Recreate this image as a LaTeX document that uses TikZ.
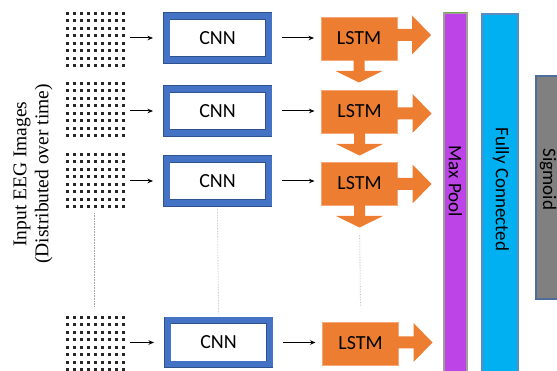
\documentclass[tikz,border=0pt]{standalone}
\usepackage{fontspec}
\setmainfont{Carlito}
\newfontfamily\leftfont{Liberation Serif}
\usetikzlibrary{arrows.meta,calc}
\definecolor{cnnblue}{HTML}{4472C4}
\definecolor{cnnedge}{HTML}{2F528F}
\definecolor{lstmorange}{HTML}{ED7D31}
\definecolor{lstmedge}{HTML}{F4A878}
\definecolor{poolpurple}{HTML}{BD45E8}
\definecolor{pooledge}{HTML}{A0A098}
\definecolor{poolgreen}{HTML}{70AD47}
\definecolor{fccyan}{HTML}{00B0F0}
\definecolor{fcedge}{HTML}{5B8BC0}
\definecolor{sigray}{HTML}{808080}
\definecolor{sigedge}{HTML}{4F6D9A}
\definecolor{vgray}{HTML}{A0A0A0}
\begin{document}
\begin{tikzpicture}[x=1pt,y=1pt,
  cnnbox/.style={draw=cnnedge, double=cnnblue, double distance=6pt, line width=0.6pt,
    fill=white, minimum width=102pt, minimum height=44pt, inner sep=0pt, outer sep=0pt,
    font=\fontsize{20}{22}\selectfont},
  lstmbox/.style={draw=lstmedge, line width=0.6pt, fill=lstmorange, minimum width=76pt,
    minimum height=43pt, inner sep=0pt, outer sep=0pt, font=\fontsize{20}{22}\selectfont},
  dotgrid/.style={minimum width=57pt, minimum height=54pt, inner sep=0pt, outer sep=0pt},
  flow/.style={-{Stealth[length=5.5pt,width=4.5pt]}, line width=1pt, black},
  vline/.style={vgray, line width=0.6pt, densely dotted},
  bigarrow/.style={fill=lstmorange},
  bartext/.style={rotate=-90, font=\fontsize{19}{22}\selectfont, inner sep=0pt},
]
\useasboundingbox (0,0) rectangle (557,371);
\clip (0,0) rectangle (557,371);

% dot grids
\foreach \n/\y in {g1/331,g2/261,g3/190,g4/27} {
  \node[dotgrid] (\n) at (94.5,\y) {};
  \foreach \i in {0,...,8} {
    \foreach \j in {0,...,7} {
      \fill[black!85] (66+7*\i, {\y+25-round(7.43*\j)}) rectangle ++(2.5,2.5);
    }
  }
}

% CNN boxes
\node[cnnbox] (c1) at (217.5,333) {CNN};
\node[cnnbox] (c2) at (217.5,260) {CNN};
\node[cnnbox] (c3) at (217.5,190) {CNN};
\node[cnnbox] (c4) at (218.5,28.5) {CNN};

% LSTM boxes
\node[lstmbox] (l1) at (359,332.5) {LSTM};
\node[lstmbox] (l2) at (359.5,259.5) {LSTM};
\node[lstmbox] (l3) at (359.5,187.5) {LSTM};
\node[lstmbox] (l4) at (360.5,27.5) {LSTM};

% input arrows
\foreach \i in {1,...,4} {
  \draw[flow, shorten <=7pt, shorten >=13.5pt] (g\i.east |- c\i.west) -- (c\i.west);
  \draw[flow, shorten <=13.5pt, shorten >=7pt] (c\i.east) -- (l\i.west |- c\i.east);
}

% big right arrows
\foreach \i/\dy in {1/3.5,2/-2,3/-0.5,4/1} {
  \fill[bigarrow] ($(l\i.east)+(-0.3,\dy)$) -- ++(0,6) -- ++(15.3,0) -- ++(0,13.5)
    -- ++(19,-19.5) -- ++(-19,-19.5) -- ++(0,13.5) -- ++(-15.3,0) -- cycle;
}

% big down arrows
\foreach \i in {1,2,3} {
  \fill[bigarrow] ($(l\i.south)+(-5.5,0.3)$) -- ++(11,0) -- ++(0,-11.3) -- ++(18,0)
    -- ++(-23.5,-11.5) -- ++(-23.5,11.5) -- ++(18,0) -- cycle;
}

% continuation lines
\draw[vline, shorten <=5pt, shorten >=10pt] (g3.south) -- (g4.north);
\draw[vline, shorten <=6pt, shorten >=7pt] (c3.south) -- (c4.north);
\draw[vline, shorten <=30pt, shorten >=16pt] (l3.south) -- (l4.north);

% bars
\draw[pooledge, line width=1.5pt, fill=poolpurple] (444,-5) rectangle (467,358);
\draw[poolgreen, line width=1pt] (444.5,358) -- (466.5,358);
\node[bartext] (mp) at (455.5,189.5) {Max Pool};

\draw[fcedge, line width=1.2pt, fill=fccyan] (482,-5) rectangle (518,357);
\node[bartext] (fc) at (501,181.5) {Fully Connected};

\draw[sigedge, line width=1.2pt, fill=sigray] (536,72) rectangle (570,295);
\node[bartext] (sg) at (548,191.5) {Sigmoid};

% left label
\node[rotate=90, align=center, inner sep=0pt, font=\leftfont\fontsize{19.5}{22}\selectfont]
  (lab) at (33,197) {Input EEG Images\\(Distributed over time)};
\end{tikzpicture}
\end{document}
